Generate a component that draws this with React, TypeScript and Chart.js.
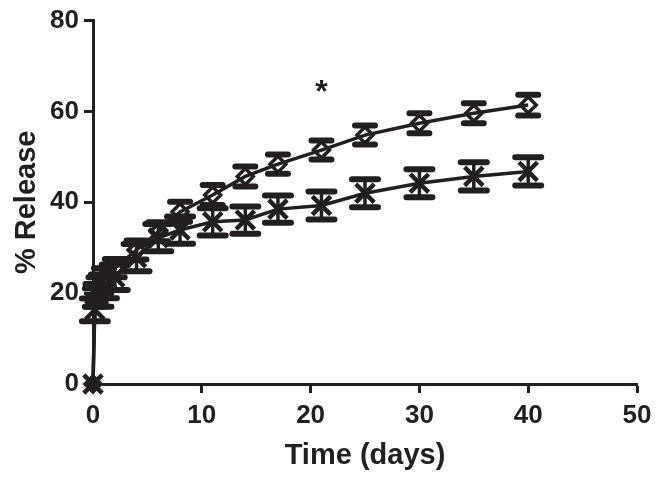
import { useEffect, useRef } from "react";
import { Chart, registerables } from "chart.js";

Chart.register(...registerables);

// ---- data ----
const timeDays = [0, 0.17, 0.5, 1, 2, 4, 6, 8, 11, 14, 17, 21, 25, 30, 35, 40];
const diamondRelease = [0, 19, 21.5, 23.5, 25.5, 29.5, 33.5, 37.9, 41.6, 45.7, 48.4, 51.5, 54.8, 57.4, 59.6, 61.4];
const diamondError = [0, 2, 2, 2, 2, 2.1, 2.1, 2.2, 2.2, 2.2, 2.1, 2.1, 2.1, 2.2, 2.2, 2.3];
const crossRelease = [0, 16.3, 19.5, 21.5, 23.5, 27.8, 32.2, 33.9, 35.7, 36.1, 38.5, 39.3, 42.0, 44.2, 45.7, 46.8];
const crossError = [0, 2.5, 2.5, 2.6, 2.8, 3, 3, 3, 3, 3, 3, 3.1, 3.1, 3.1, 3.1, 3.1];
const xTickValues = [0, 10, 20, 30, 40, 50];
const yTickValues = [0, 20, 40, 60, 80];
const starLabelX = [21];
const starLabelY = [65];
const starLabelText = ["*"];

const INK = "#231f20";
const FONT = "'Liberation Sans', Arial, Helvetica, sans-serif";

const errorSets = [diamondError, crossError];
const capHalfWidths = [10, 13];
const markerGaps = [8, 0];

const errorBarPlugin = {
  id: "errorBars",
  beforeDatasetsDraw(chart: any) {
    const ctx = chart.ctx;
    const xs = chart.scales.x;
    const ys = chart.scales.y;
    ctx.save();
    ctx.strokeStyle = INK;
    chart.data.datasets.forEach((ds: any, i: number) => {
      const errs = errorSets[i];
      const capHalf = capHalfWidths[i];
      const gap = markerGaps[i];
      ds.data.forEach((pt: any, j: number) => {
        const e = errs[j];
        if (!e) return;
        const px = xs.getPixelForValue(pt.x);
        const cy = ys.getPixelForValue(pt.y);
        const top = ys.getPixelForValue(pt.y + e);
        const bot = ys.getPixelForValue(pt.y - e);
        ctx.lineCap = "butt";
        ctx.lineWidth = 3.5;
        ctx.beginPath();
        if (gap > 0) {
          ctx.moveTo(px, top);
          ctx.lineTo(px, Math.max(top, cy - gap));
          ctx.moveTo(px, Math.min(bot, cy + gap));
          ctx.lineTo(px, bot);
        } else {
          ctx.moveTo(px, top);
          ctx.lineTo(px, bot);
        }
        ctx.stroke();
        ctx.lineCap = "round";
        ctx.lineWidth = 6;
        ctx.beginPath();
        ctx.moveTo(px - capHalf, top);
        ctx.lineTo(px + capHalf, top);
        ctx.moveTo(px - capHalf, bot);
        ctx.lineTo(px + capHalf, bot);
        ctx.stroke();
      });
    });
    ctx.restore();
  },
  afterDatasetsDraw(chart: any) {
    const ctx = chart.ctx;
    const xs = chart.scales.x;
    const ys = chart.scales.y;
    ctx.save();
    ctx.fillStyle = INK;
    ctx.font = `bold 32px ${FONT}`;
    ctx.textAlign = "center";
    ctx.textBaseline = "alphabetic";
    starLabelText.forEach((t, i) => {
      const px = xs.getPixelForValue(starLabelX[i]);
      const py = ys.getPixelForValue(starLabelY[i]);
      ctx.fillText(t, px, py + 13);
    });
    ctx.restore();
  },
};

export default function App() {
  const canvasRef = useRef<HTMLCanvasElement | null>(null);

  useEffect(() => {
    if (!canvasRef.current) return;
    const chart = new Chart(canvasRef.current, {
      type: "line",
      data: {
        datasets: [
          {
            label: "Formulation A",
            data: timeDays.map((t, i) => ({ x: t, y: diamondRelease[i] })),
            borderColor: INK,
            borderWidth: 3.5,
            pointStyle: "rectRot",
            pointRadius: 8,
            pointBorderWidth: 3.5,
            pointBorderColor: INK,
            pointBackgroundColor: "rgba(0,0,0,0)",
            tension: 0,
            clip: false as any,
          },
          {
            label: "Formulation B",
            data: timeDays.map((t, i) => ({ x: t, y: crossRelease[i] })),
            borderColor: INK,
            borderWidth: 3.5,
            pointStyle: "crossRot",
            pointRadius: 13,
            pointBorderWidth: 4.5,
            pointBorderColor: INK,
            pointBackgroundColor: INK,
            tension: 0,
            clip: false as any,
          },
        ],
      },
      options: {
        animation: false,
        responsive: true,
        maintainAspectRatio: false,
        layout: { padding: { top: 20, right: 25, bottom: 0, left: 0 } },
        plugins: {
          legend: { display: false },
          tooltip: { enabled: false },
        },
        scales: {
          x: {
            type: "linear",
            min: 0,
            max: 50,
            afterBuildTicks: (scale: any) => {
              scale.ticks = xTickValues.map((v) => ({ value: v }));
            },
            afterFit: (scale: any) => {
              scale.height = 97;
            },
            ticks: {
              color: INK,
              font: { family: FONT, size: 26, weight: "bold" },
              padding: 7,
              maxRotation: 0,
            },
            grid: {
              drawOnChartArea: false,
              drawTicks: true,
              tickLength: 9,
              tickWidth: 3,
              tickColor: INK,
            },
            border: { display: true, color: INK, width: 3 },
            title: {
              display: true,
              text: "Time (days)",
              color: INK,
              font: { family: FONT, size: 29, weight: "bold" },
              padding: { top: 0, bottom: 8 },
            },
          },
          y: {
            type: "linear",
            min: 0,
            max: 80,
            afterBuildTicks: (scale: any) => {
              scale.ticks = yTickValues.map((v) => ({ value: v }));
            },
            afterFit: (scale: any) => {
              scale.width = 93;
            },
            ticks: {
              color: INK,
              font: { family: FONT, size: 26, weight: "bold" },
              padding: 5,
            },
            grid: {
              drawOnChartArea: false,
              drawTicks: true,
              tickLength: 9,
              tickWidth: 3,
              tickColor: INK,
            },
            border: { display: true, color: INK, width: 3 },
            title: {
              display: true,
              text: "% Release",
              color: INK,
              font: { family: FONT, size: 29, weight: "bold" },
              padding: { top: 10, bottom: 0 },
            },
          },
        },
      },
      plugins: [errorBarPlugin],
    });
    return () => chart.destroy();
  }, []);

  return (
    <div
      style={{
        position: "fixed",
        left: 0,
        top: 0,
        width: 662,
        height: 481,
        background: "#ffffff",
      }}
    >
      <canvas ref={canvasRef} />
    </div>
  );
}
